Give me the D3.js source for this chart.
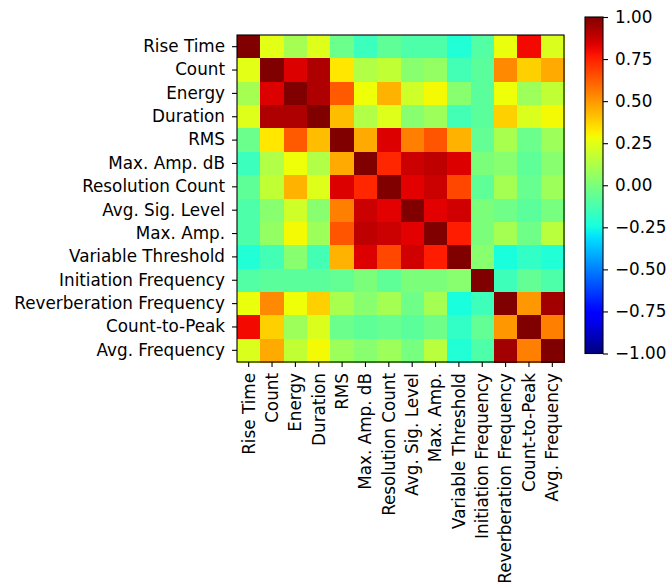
<!DOCTYPE html>
<html><head><meta charset="utf-8">
<script src="https://cdn.jsdelivr.net/npm/d3@7"></script>
<style>body{margin:0;background:#fff}svg{display:block}text{font-family:"DejaVu Sans",sans-serif;fill:#000}</style>
</head><body><svg id="c" width="668" height="588"></svg>
<script>
const labels = ["Rise Time","Count","Energy","Duration","RMS","Max. Amp. dB","Resolution Count","Avg. Sig. Level","Max. Amp.","Variable Threshold","Initiation Frequency","Reverberation Frequency","Count-to-Peak","Avg. Frequency"];
const corr = [
 [ 1.00, 0.25, 0.10, 0.24,-0.04,-0.16,-0.07,-0.11,-0.11,-0.22,-0.10, 0.27, 0.80, 0.23],
 [ 0.25, 1.00, 0.84, 0.92, 0.33, 0.13, 0.17, 0.03, 0.06,-0.14,-0.08, 0.53, 0.38, 0.46],
 [ 0.10, 0.84, 1.00, 0.92, 0.63, 0.28, 0.44, 0.20, 0.29, 0.03,-0.08, 0.28, 0.08, 0.17],
 [ 0.24, 0.92, 0.92, 1.00, 0.42, 0.13, 0.24, 0.03, 0.08,-0.14,-0.08, 0.38, 0.23, 0.29],
 [-0.04, 0.33, 0.63, 0.42, 1.00, 0.46, 0.84, 0.55, 0.64, 0.44,-0.06, 0.11,-0.04, 0.08],
 [-0.16, 0.13, 0.28, 0.13, 0.46, 1.00, 0.74, 0.87, 0.89, 0.84, 0.00, 0.03,-0.07, 0.03],
 [-0.07, 0.17, 0.44, 0.24, 0.84, 0.74, 1.00, 0.83, 0.87, 0.67,-0.07, 0.10,-0.05, 0.08],
 [-0.11, 0.03, 0.20, 0.03, 0.55, 0.87, 0.83, 1.00, 0.83, 0.86, 0.00,-0.03,-0.08,-0.01],
 [-0.11, 0.06, 0.29, 0.08, 0.64, 0.89, 0.87, 0.83, 1.00, 0.76, 0.00, 0.10,-0.03, 0.15],
 [-0.22,-0.14, 0.03,-0.14, 0.44, 0.84, 0.67, 0.86, 0.76, 1.00, 0.03,-0.24,-0.18,-0.22],
 [-0.10,-0.08,-0.08,-0.08,-0.06, 0.00,-0.07, 0.00, 0.00, 0.03, 1.00,-0.15,-0.06,-0.11],
 [ 0.27, 0.53, 0.28, 0.38, 0.11, 0.03, 0.10,-0.03, 0.10,-0.24,-0.15, 1.00, 0.50, 0.94],
 [ 0.80, 0.38, 0.08, 0.23,-0.04,-0.07,-0.05,-0.08,-0.03,-0.18,-0.06, 0.50, 1.00, 0.55],
 [ 0.23, 0.46, 0.17, 0.29, 0.08, 0.03, 0.08,-0.01, 0.15,-0.22,-0.11, 0.94, 0.55, 1.00]
];
const cbTicks = [1.00,0.75,0.50,0.25,0.00,-0.25,-0.50,-0.75,-1.00];

// matplotlib jet
const segR = [[0,0],[0.35,0],[0.66,1],[0.89,1],[1,0.5]];
const segG = [[0,0],[0.125,0],[0.375,1],[0.64,1],[0.91,0],[1,0]];
const segB = [[0,0.5],[0.11,1],[0.34,1],[0.65,0],[1,0]];
const chan = s => d3.scaleLinear().domain(s.map(d=>d[0])).range(s.map(d=>d[1])).clamp(true);
const cr = chan(segR), cg = chan(segG), cb = chan(segB);
const norm = d3.scaleLinear().domain([-1,1]).range([0,1]).clamp(true);
const jet = v => { const t = norm(v); return d3.rgb(cr(t)*255, cg(t)*255, cb(t)*255).formatHex(); };

const svg = d3.select("#c");
const L = 237, T = 35, S = 327;
const x = d3.scaleBand().domain(labels).range([L, L+S]);
const y = d3.scaleBand().domain(labels).range([T, T+S]);

const cells = [];
corr.forEach((row,i)=>row.forEach((v,j)=>cells.push({r:labels[i],c:labels[j],v})));
svg.append("g").selectAll("rect").data(cells).join("rect")
  .attr("x", d=>x(d.c)).attr("y", d=>y(d.r))
  .attr("width", x.bandwidth()+0.5).attr("height", y.bandwidth()+0.5)
  .attr("fill", d=>jet(d.v)).attr("shape-rendering","crispEdges");

const fs = "16.8px";
const ya = svg.append("g").attr("transform",`translate(${L},0)`)
  .call(d3.axisLeft(y).tickSize(5).tickPadding(7));
ya.select(".domain").remove();
ya.selectAll("text").style("font-size",fs).style("font-family","DejaVu Sans");
ya.selectAll("line").attr("stroke","#000").attr("stroke-width",1.1);

const xa = svg.append("g").attr("transform",`translate(0,${T+S})`)
  .call(d3.axisBottom(x).tickSize(5).tickPadding(6));
xa.select(".domain").remove();
xa.selectAll("line").attr("stroke","#000").attr("stroke-width",1.1);
xa.selectAll("text").style("font-size",fs).style("font-family","DejaVu Sans")
  .attr("text-anchor","end").attr("dy","0.35em")
  .attr("transform","rotate(-90)").attr("x",-11).attr("y",0);

svg.append("rect").attr("x",L).attr("y",T).attr("width",S).attr("height",S)
  .attr("fill","none").attr("stroke","#000").attr("stroke-width",1.1);

// colorbar
const CX = 585, CW = 18, CT = 17, CB = 353.5;
const cy = d3.scaleLinear().domain([-1,1]).range([CB, CT]);
const defs = svg.append("defs");
const grad = defs.append("linearGradient").attr("id","jetg").attr("x1",0).attr("x2",0).attr("y1",1).attr("y2",0);
d3.range(0,1.0001,0.02).forEach(t=>grad.append("stop").attr("offset",t).attr("stop-color",jet(t*2-1)));
svg.append("rect").attr("x",CX).attr("y",CT).attr("width",CW).attr("height",CB-CT).attr("fill","url(#jetg)")
  .attr("stroke","#000").attr("stroke-width",1.1);
const ca = svg.append("g").attr("transform",`translate(${CX+CW},0)`)
  .call(d3.axisRight(cy).tickValues(cbTicks).tickSize(5).tickPadding(7)
    .tickFormat(d=>d3.format(".2f")(d).replace("-","\u2212")));
ca.select(".domain").remove();
ca.selectAll("line").attr("stroke","#000").attr("stroke-width",1.1);
ca.selectAll("text").style("font-size",fs).style("font-family","DejaVu Sans");
</script></body></html>
